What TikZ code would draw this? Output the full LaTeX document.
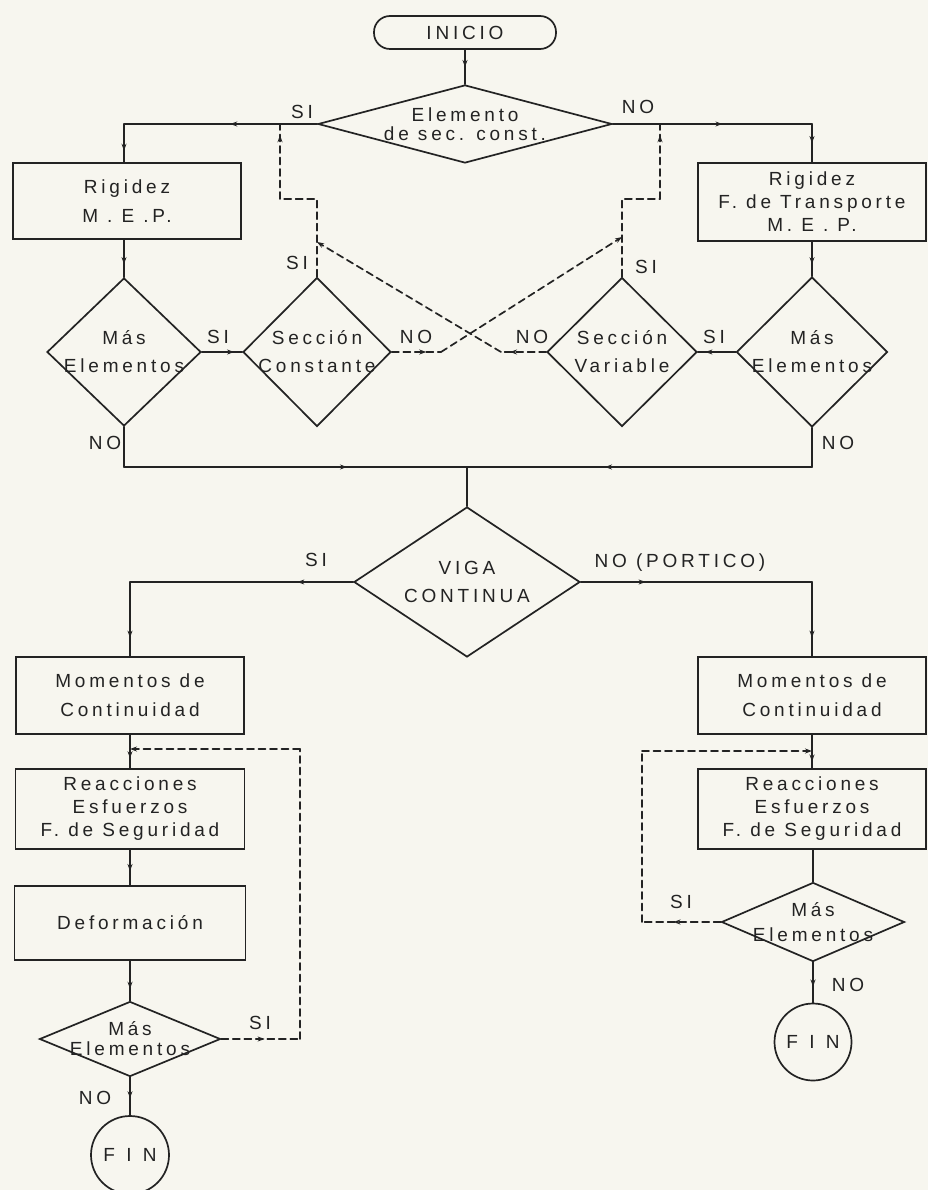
\documentclass[tikz,border=0pt]{standalone}
\usepackage{fontspec}
\usetikzlibrary{shapes.geometric, arrows.meta, decorations.markings}
\newfontfamily\letterfont{Liberation Sans}[LetterSpace=20]
\newcommand\lettering{\letterfont\fontsize{19}{23}\selectfont}
\definecolor{paper}{RGB}{247,246,239}
\definecolor{ink}{RGB}{35,35,35}
\begin{document}
\begin{tikzpicture}[x=1pt,y=-1pt,
  ln/.style={draw=ink, line width=1.7pt, line cap=round, line join=round},
  dsh/.style={ln, dash pattern=on 7pt off 4.5pt},
  box/.style={draw=ink, line width=1.7pt, rectangle, inner sep=0pt, align=center, font=\lettering, text=ink},
  term/.style={box, rounded corners=16pt},
  circ/.style={draw=ink, line width=1.7pt, circle, inner sep=0pt, font=\lettering, text=ink},
  dia/.style={draw=ink, line width=1.7pt, diamond, inner sep=0pt, aspect=1},
  lbl/.style={font=\lettering, align=center, inner sep=0pt, text=ink},
  tag/.style={font=\lettering, inner sep=0pt, text=ink},
  tipa/.style={-{Stealth[length=7pt,width=5pt]}},
  marr/.style={postaction={decorate, decoration={markings, mark=at position #1 with {\arrow{Stealth[length=7pt,width=5pt]}}}}},
  marr/.default=0.5]
\fill[paper] (0,0) rectangle (928,1190);
\useasboundingbox (0,0) rectangle (928,1190);

% ---------- nodes ----------
\node[term, minimum width=182pt, minimum height=33pt] (inicio) at (465,32.5) {INICIO};
\node[dia, minimum width=294pt, minimum height=78pt, label={[lbl]center:{Elemento\\[-4pt]de sec. const.}}] (d1) at (465,124) {};
\node[box, minimum width=228pt, minimum height=76pt] (rig1) at (127,201) {Rigidez\\[6pt]M . E .P.};
\node[box, minimum width=228pt, minimum height=78pt] (rig2) at (812,202) {Rigidez\\F. de Transporte\\M. E . P.};
\node[dia, minimum width=154pt, minimum height=148pt, label={[lbl]center:{Más\\[5pt]Elementos}}] (mas1) at (124,352) {};
\node[dia, minimum width=148pt, minimum height=149pt, label={[lbl]center:{Sección\\[5pt]Constante}}] (sc) at (317,352) {};
\node[dia, minimum width=150pt, minimum height=149pt, label={[lbl]center:{Sección\\[5pt]Variable}}] (sv) at (622,352) {};
\node[dia, minimum width=151pt, minimum height=150pt, label={[lbl]center:{Más\\[5pt]Elementos}}] (mas2) at (812,352) {};
\node[dia, minimum width=226pt, minimum height=150pt, label={[lbl]center:{VIGA\\[5pt]CONTINUA}}] (viga) at (467,582) {};
\node[box, minimum width=228pt, minimum height=77pt] (mom1) at (130,695.5) {Momentos de\\[6pt]Continuidad};
\node[box, minimum width=228pt, minimum height=77pt] (mom2) at (812,695.5) {Momentos de\\[6pt]Continuidad};
\node[box, minimum width=229pt, minimum height=80pt] (rea1) at (130,809) {Reacciones\\Esfuerzos\\F. de Seguridad};
\node[box, minimum width=228pt, minimum height=80pt] (rea2) at (812,809) {Reacciones\\Esfuerzos\\F. de Seguridad};
\node[box, minimum width=231pt, minimum height=74pt] (def) at (130,923) {Deformación};
\node[dia, minimum width=181pt, minimum height=75pt, label={[lbl]center:{Más\\[-3pt]Elementos}}] (mas3) at (130,1039) {};
\node[dia, minimum width=183pt, minimum height=79pt, label={[lbl]center:{Más\\[2pt]Elementos}}] (mas4) at (813,922) {};
\node[circ, minimum size=78pt] (fin1) at (130,1155) {\addfontfeature{LetterSpace=60}FIN};
\node[circ, minimum size=77pt] (fin2) at (813,1042) {\addfontfeature{LetterSpace=60}FIN};

% ---------- bend points ----------
\coordinate (cL) at (124,124);
\coordinate (cR) at (812,124);
\coordinate (jL) at (280,124);
\coordinate (jR) at (660,124);
\coordinate (sc1) at (317,199);
\coordinate (sc2) at (280,199);
\coordinate (sv1) at (622,199);
\coordinate (sv2) at (660,199);
\coordinate (scN) at (441,352);
\coordinate (svT) at (622,237);
\coordinate (svN) at (501,352);
\coordinate (scT) at (317,242);
\coordinate (bL) at (124,467);
\coordinate (bR) at (812,467);
\coordinate (mg) at (467,467);
\coordinate (vL) at (130,582);
\coordinate (vR) at (812,582);
\coordinate (rL1) at (300,1039);
\coordinate (rL2) at (300,749);
\coordinate (rL3) at (130,749);
\coordinate (rR1) at (642,922);
\coordinate (rR2) at (642,751);
\coordinate (rR3) at (812,751);

% ---------- solid connectors ----------
\draw[ln, marr] (inicio.south) -- (d1.north);
\draw[ln, marr=0.45] (d1.west) -- (cL);
\draw[ln, marr=0.7] (cL) -- (cL |- rig1.north);
\draw[ln, marr=0.55] (d1.east) -- (cR);
\draw[ln, marr=0.5] (cR) -- (cR |- rig2.north);
\draw[ln, marr=0.65] (mas1.north |- rig1.south) -- (mas1.north);
\draw[ln, marr=0.65] (mas2.north |- rig2.south) -- (mas2.north);
\draw[ln, marr=0.8] (mas1.east) -- (sc.west);
\draw[ln, marr=0.8] (mas2.west) -- (sv.east);
\draw[ln] (mas1.south) -- (bL);
\draw[ln, marr=0.65] (bL) -- (mg);
\draw[ln] (mas2.south) -- (bR);
\draw[ln, marr=0.6] (bR) -- (mg);
\draw[ln] (mg) -- (viga.north);
\draw[ln, marr=0.25] (viga.west) -- (vL);
\draw[ln, marr=0.75] (vL) -- (vL |- mom1.north);
\draw[ln, marr=0.28] (viga.east) -- (vR);
\draw[ln, marr=0.75] (vR) -- (vR |- mom2.north);
\draw[ln, marr=0.7] (mom1.south) -- (mom1.south |- rea1.north);
\draw[ln, marr=0.6] (rea1.south) -- (rea1.south |- def.north);
\draw[ln, marr=0.7] (def.south) -- (mas3.north);
\draw[ln, marr=0.55] (mas3.south) -- (fin1.north);
\draw[ln, marr=0.8] (mom2.south) -- (mom2.south |- rea2.north);
\draw[ln] (mas4.north |- rea2.south) -- (mas4.north);
\draw[ln, marr=0.6] (mas4.south) -- (fin2.north);

% ---------- dashed connectors ----------
\draw[dsh] (sc.north) -- (sc1) -- (sc2);
\draw[dsh, marr=0.85] (sc2) -- (jL);
\draw[dsh] (sv.north) -- (sv1) -- (sv2);
\draw[dsh, marr=0.85] (sv2) -- (jR);
\draw[dsh, marr=0.7] (sc.east) -- (scN);
\draw[dsh, tipa] (scN) -- (svT);
\draw[dsh, marr=0.8] (sv.west) -- (svN);
\draw[dsh, tipa] (svN) -- (scT);
\draw[dsh, marr=0.55] (mas3.east) -- (rL1);
\draw[dsh] (rL1) -- (rL2);
\draw[dsh, tipa] (rL2) -- (rL3);
\draw[dsh, marr=0.6] (mas4.west) -- (rR1);
\draw[dsh] (rR1) -- (rR2);
\draw[dsh, tipa] (rR2) -- (rR3);

% ---------- branch labels ----------
\node[tag] (t1) at (302,112) {SI};
\node[tag] (t2) at (638,107) {NO};
\node[tag] (t3) at (297,263) {SI};
\node[tag] (t4) at (646,267) {SI};
\node[tag] (t5) at (218,337) {SI};
\node[tag] (t6) at (416,337) {NO};
\node[tag] (t7) at (532,337) {NO};
\node[tag] (t8) at (714,337) {SI};
\node[tag] (t9) at (105,443) {NO};
\node[tag] (t10) at (838,443) {NO};
\node[tag] (t11) at (316,560) {SI};
\node[tag] (t12) at (680,563) {NO (PORTICO)};
\node[tag] (t13) at (260,1023) {SI};
\node[tag] (t14) at (95,1098) {NO};
\node[tag] (t15) at (681,902) {SI};
\node[tag] (t16) at (848,985) {NO};
\end{tikzpicture}
\end{document}
